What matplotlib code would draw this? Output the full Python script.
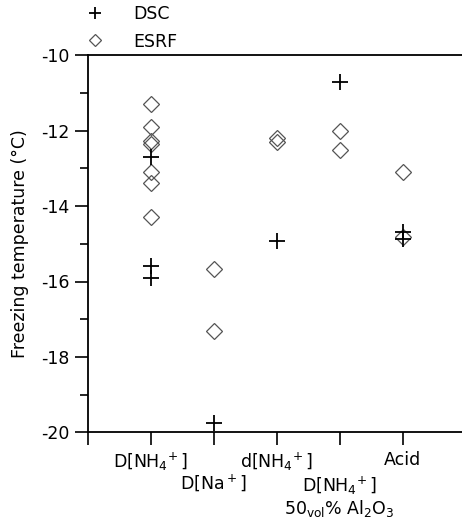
import numpy as np
import matplotlib
matplotlib.use("Agg")
import matplotlib.pyplot as plt
from matplotlib.ticker import MultipleLocator

plt.rcParams["font.family"] = ["DejaVu Sans"]
plt.rcParams["mathtext.fontset"] = "dejavusans"

# category labels on the x axis (position 1..5)
categories = [
    r"D[NH$_4{}^{\!+}$]",
    r"D[Na$^+$]",
    r"d[NH$_4{}^{\!+}$]",
    "D[NH$_4{}^{\\!+}$]\n50$_{\\mathrm{vol}}$% Al$_2$O$_3$",
    "Acid",
]
cat_pos = [1, 2, 3, 4, 5]

# DSC measurements (category index, temperature in degC)
dsc_cat = [1, 1, 1, 2, 3, 4, 5, 5]
dsc_temp = [-12.7, -15.6, -15.9, -19.75, -14.92, -10.7, -14.7, -14.87]

# ESRF measurements
esrf_cat = [1, 1, 1, 1, 1, 1, 1, 2, 2, 3, 3, 4, 4, 5, 5]
esrf_temp = [-11.3, -11.9, -12.28, -12.35, -13.1, -13.4, -14.3,
             -15.67, -17.31, -12.2, -12.3, -12.0, -12.5, -13.1, -14.82]

FS = 12.5

fig = plt.figure(figsize=(4.62, 5.25), dpi=100)
ax = fig.add_axes([87.5 / 462, 92.7 / 525, 1 - 87.5 / 462, (432.3 - 55.3) / 525])

ax.plot(esrf_cat, esrf_temp, linestyle="none", marker="D", markersize=7.8,
        markerfacecolor="none", markeredgecolor="#555555", markeredgewidth=0.9,
        label="ESRF", clip_on=False)
ax.plot(dsc_cat, dsc_temp, linestyle="none", marker="+", markersize=11,
        color="black", markeredgewidth=1.3, label="DSC", clip_on=False)

ax.set_xlim(0, (462 - 87.5) / 63)
ax.set_ylim(-20, -10)

ax.set_xticks([0] + cat_pos)
ax.set_xticklabels([""] + categories, fontsize=FS, linespacing=1.1)
pads = [4, 4, 19, 4, 21, 4]
for t, p in zip(ax.xaxis.get_major_ticks(), pads):
    t.set_pad(p)

ax.yaxis.set_major_locator(MultipleLocator(2))
ax.yaxis.set_minor_locator(MultipleLocator(1))
ax.tick_params(axis="both", which="major", direction="out", length=9.4, width=1.2,
               labelsize=FS)
ax.tick_params(axis="y", which="minor", direction="out", length=6, width=1.2)
ax.set_yticks([-20, -18, -16, -14, -12, -10])
ax.set_yticklabels(["-20", "-18", "-16", "-14", "-12", "-10"])

for s in ["left", "top", "bottom"]:
    ax.spines[s].set_linewidth(1.3)
ax.spines["right"].set_visible(False)

ax.set_ylabel("Freezing temperature (\u00b0C)", fontsize=FS, labelpad=9)

handles, labels = ax.get_legend_handles_labels()
fig.legend(handles[::-1], labels[::-1], loc="upper left",
           bbox_to_anchor=(78 / 462, 1 - 5 / 525), frameon=False, fontsize=FS,
           numpoints=1, markerscale=0.75, handlelength=2.0, handletextpad=1.2,
           labelspacing=0.55, borderaxespad=0.0, borderpad=0.0)

fig.savefig("out.png", dpi=100)
